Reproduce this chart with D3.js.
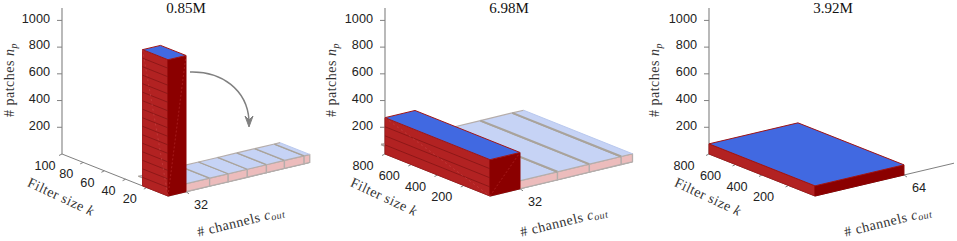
<!DOCTYPE html>
<html>
<head>
<meta charset="utf-8">
<script src="https://cdn.jsdelivr.net/npm/d3@7"></script>
<style>
html, body { margin: 0; padding: 0; background: #fff; overflow: hidden; }
svg { display: block; }
.num { font-family: "Liberation Sans", sans-serif; font-size: 12.7px; fill: #222; }
.lab { font-family: "Liberation Serif", serif; font-size: 14px; fill: #333; letter-spacing: 0.5px; }
.ttl { font-family: "Liberation Serif", serif; font-size: 15px; fill: #111; }
</style>
</head>
<body>
<div id="chart-area"></div>
<script>
// values, one entry per panel
var titles = ['0.85M', '6.98M', '3.92M']
var npTicks = [200, 400, 600, 800, 1000]
var kTicks = [[20, 40, 60, 80, 100], [200, 400, 600, 800], [200, 400, 600, 800]]
var kMax = [100, 800, 800]
var cTicks = [32, 32, 64]
var cMax = [252, 152, 100]

// tall bar
var barK = [24, 800, 800]
var barC = [32, 32, 64]
var barNp = [1020, 272, 76]
var barLayers = [16, 4, 0]

// pale bars behind, c value at each divider
var ghostCuts = [
	[0, 74, 107, 141, 175, 207, 242, 252],
	[0, 72, 106, 140, 152],
	[]
]
var ghostK = [28, 830, 0]
var ghostNp = 60

// layout
var width = 957, height = 241
var originX = [62, 385, 709]
var originY = 154
var kSpanX = [106, 105, 106], kSpanY = [42, 42, 42]
var cPerUnitX = [0.5625, 0.9375, 1.39], cPerUnitY = [0.133, 0.225, 0.328]
var kLabelDx = [-17, -22, -25]
var dividerWidth = [1.3, 2, 0]

var svg = d3.select('#chart-area').append('svg')
	.attr('width', width)
	.attr('height', height)

// np scale is shared, zero sits on the floor corner
var npScale = d3.scaleLinear().domain([0, 1000]).range([0, 133.6])

function poly(g, pts, fill, stroke, sw) {
	return g.append('polygon')
		.attr('points', pts.map(function(p){ return p.join(',') }).join(' '))
		.attr('fill', fill)
		.attr('stroke', stroke)
		.attr('stroke-width', sw)
		.attr('stroke-linejoin', 'round')
}

function seg(g, a, b, color, sw) {
	return g.append('line')
		.attr('x1', a[0]).attr('y1', a[1])
		.attr('x2', b[0]).attr('y2', b[1])
		.attr('stroke', color)
		.attr('stroke-width', sw)
}

titles.forEach(function(title, i) {
	var g = svg.append('g')
	var ox = originX[i]

	// k runs from the front corner back to the origin
	var kx = d3.scaleLinear().domain([kMax[i], 0]).range([0, kSpanX[i]])
	var ky = d3.scaleLinear().domain([kMax[i], 0]).range([0, kSpanY[i]])
	var cx = d3.scaleLinear().domain([0, 100]).range([0, cPerUnitX[i] * 100])
	var cy = d3.scaleLinear().domain([0, 100]).range([0, -cPerUnitY[i] * 100])

	function pt(k, c, n) {
		return [ox + kx(k) + cx(c), originY + ky(k) + cy(c) - npScale(n)]
	}

	// vertical axis
	seg(g, [ox, originY], [ox, 8], '#808080', 1.1)
	npTicks.forEach(function(t) {
		var p = pt(kMax[i], 0, t)
		seg(g, [p[0] - 5, p[1]], p, '#808080', 1)
		g.append('text').attr('class', 'num')
			.attr('x', p[0] - 12)
			.attr('y', p[1] - 1)
			.attr('text-anchor', 'end')
			.attr('dominant-baseline', 'middle')
			.text(t)
	})

	// k axis
	seg(g, pt(kMax[i], 0, 0), pt(0, 0, 0), '#808080', 1)
	kTicks[i].forEach(function(t) {
		var p = pt(t, 0, 0)
		seg(g, p, [p[0] - 3, p[1] + 1.5], '#808080', 1)
		g.append('text').attr('class', 'num')
			.attr('x', p[0] + kLabelDx[i])
			.attr('y', p[1] + 12.5)
			.attr('text-anchor', 'middle')
			.attr('dominant-baseline', 'middle')
			.text(t)
	})

	// c axis
	seg(g, pt(0, 0, 0), pt(0, cMax[i], 0), '#808080', 1)
	var ct = pt(0, cTicks[i], 0)
	seg(g, ct, [ct[0] + 3, ct[1] + 2], '#808080', 1)
	g.append('text').attr('class', 'num')
		.attr('x', ct[0] + 15)
		.attr('y', ct[1] + 14)
		.attr('text-anchor', 'middle')
		.attr('dominant-baseline', 'middle')
		.text(cTicks[i])

	// pale bars
	var cuts = ghostCuts[i]
	d3.range(cuts.length - 1).forEach(function(j) {
		var c0 = cuts[j], c1 = cuts[j + 1], K = ghostK[i]
		poly(g, [pt(0, c0, 0), pt(0, c1, 0), pt(0, c1, ghostNp), pt(0, c0, ghostNp)], '#ecbcbc', '#b5adab', 1.3)
		poly(g, [pt(0, c0, ghostNp), pt(0, c1, ghostNp), pt(K, c1, ghostNp), pt(K, c0, ghostNp)], '#c6d3f5', 'none', 0)
		seg(g, pt(0, c0, ghostNp), pt(0, c1, ghostNp), '#b5adab', 1.2)
		seg(g, pt(K, c0, ghostNp), pt(K, c1, ghostNp), '#b5adab', 1.2)
		seg(g, pt(0, c0, ghostNp), pt(K, c0, ghostNp), '#a9a39b', dividerWidth[i])
		// outer end is only a pale edge
		seg(g, pt(0, c1, ghostNp), pt(K, c1, ghostNp), j == cuts.length - 2 ? '#b9c8ee' : '#a9a39b', j == cuts.length - 2 ? 1 : dividerWidth[i])
	})

	// solid bar
	var K = barK[i], C = barC[i], N = barNp[i]
	poly(g, [pt(K, 0, 0), pt(0, 0, 0), pt(0, 0, N), pt(K, 0, N)], '#b22222', '#a11a1a', 1)
	poly(g, [pt(0, 0, 0), pt(0, C, 0), pt(0, C, N), pt(0, 0, N)], '#8b0000', '#8b0000', 1)
	poly(g, [pt(K, 0, N), pt(0, 0, N), pt(0, C, N), pt(K, C, N)], '#4169e1', '#a01515', 1)

	d3.range(1, barLayers[i]).forEach(function(l) {
		var n = N * l / barLayers[i]
		seg(g, pt(K, 0, n), pt(0, 0, n), '#851414', 0.8)
	})

	// faint mesh diagonals
	if (barLayers[i] > 0) {
		seg(g, pt(0, 0, 0), pt(0, C, N), '#c44', 0.7).attr('stroke-dasharray', '2,2').attr('opacity', 0.6)
		seg(g, pt(K, 0, N), pt(0, 0, 0), '#d66', 0.7).attr('stroke-dasharray', '2,3').attr('opacity', 0.45)
	}

	// labels
	g.append('text').attr('class', 'ttl')
		.attr('x', ox + 124)
		.attr('y', 13)
		.attr('text-anchor', 'middle')
		.text(title)

	var npLabel = g.append('text').attr('class', 'lab')
		.attr('text-anchor', 'middle')
		.attr('transform', 'translate(' + (ox - 48 + (i == 2 ? -2 : i == 1 ? -1 : 0)) + ',80) rotate(-90)')
	npLabel.append('tspan').text('# patches ')
	npLabel.append('tspan').attr('font-style', 'italic').text('n')
	npLabel.append('tspan').attr('font-style', 'italic').attr('font-size', '10px').attr('dy', 3).text('p')

	g.append('text').attr('class', 'lab')
		.attr('text-anchor', 'middle')
		.attr('transform', 'translate(' + (ox - 3) + ',201) rotate(25)')
		.text('Filter size ')
		.append('tspan').attr('font-style', 'italic').text('k')

	var cLabel = g.append('text').attr('class', 'lab')
		.attr('text-anchor', 'middle')
		.attr('transform', 'translate(' + (ox + 180) + ',226) rotate(-14)')
	cLabel.append('tspan').text('# channels ')
	cLabel.append('tspan').attr('font-style', 'italic').text('c')
	cLabel.append('tspan').attr('font-style', 'italic').attr('font-size', '10px').attr('dy', 2).text('out')
})

// curved arrow in the first panel
var arrow = d3.path()
arrow.moveTo(190, 72)
arrow.bezierCurveTo(222, 71, 247, 90, 249, 120)
svg.append('path')
	.attr('d', arrow.toString())
	.attr('fill', 'none')
	.attr('stroke', '#808080')
	.attr('stroke-width', 1.5)
svg.append('polygon')
	.attr('points', '245,116 249,120 253,116 249,127')
	.attr('fill', '#808080')
	.attr('stroke', '#808080')
	.attr('stroke-width', 1)
</script>
</body>
</html>
